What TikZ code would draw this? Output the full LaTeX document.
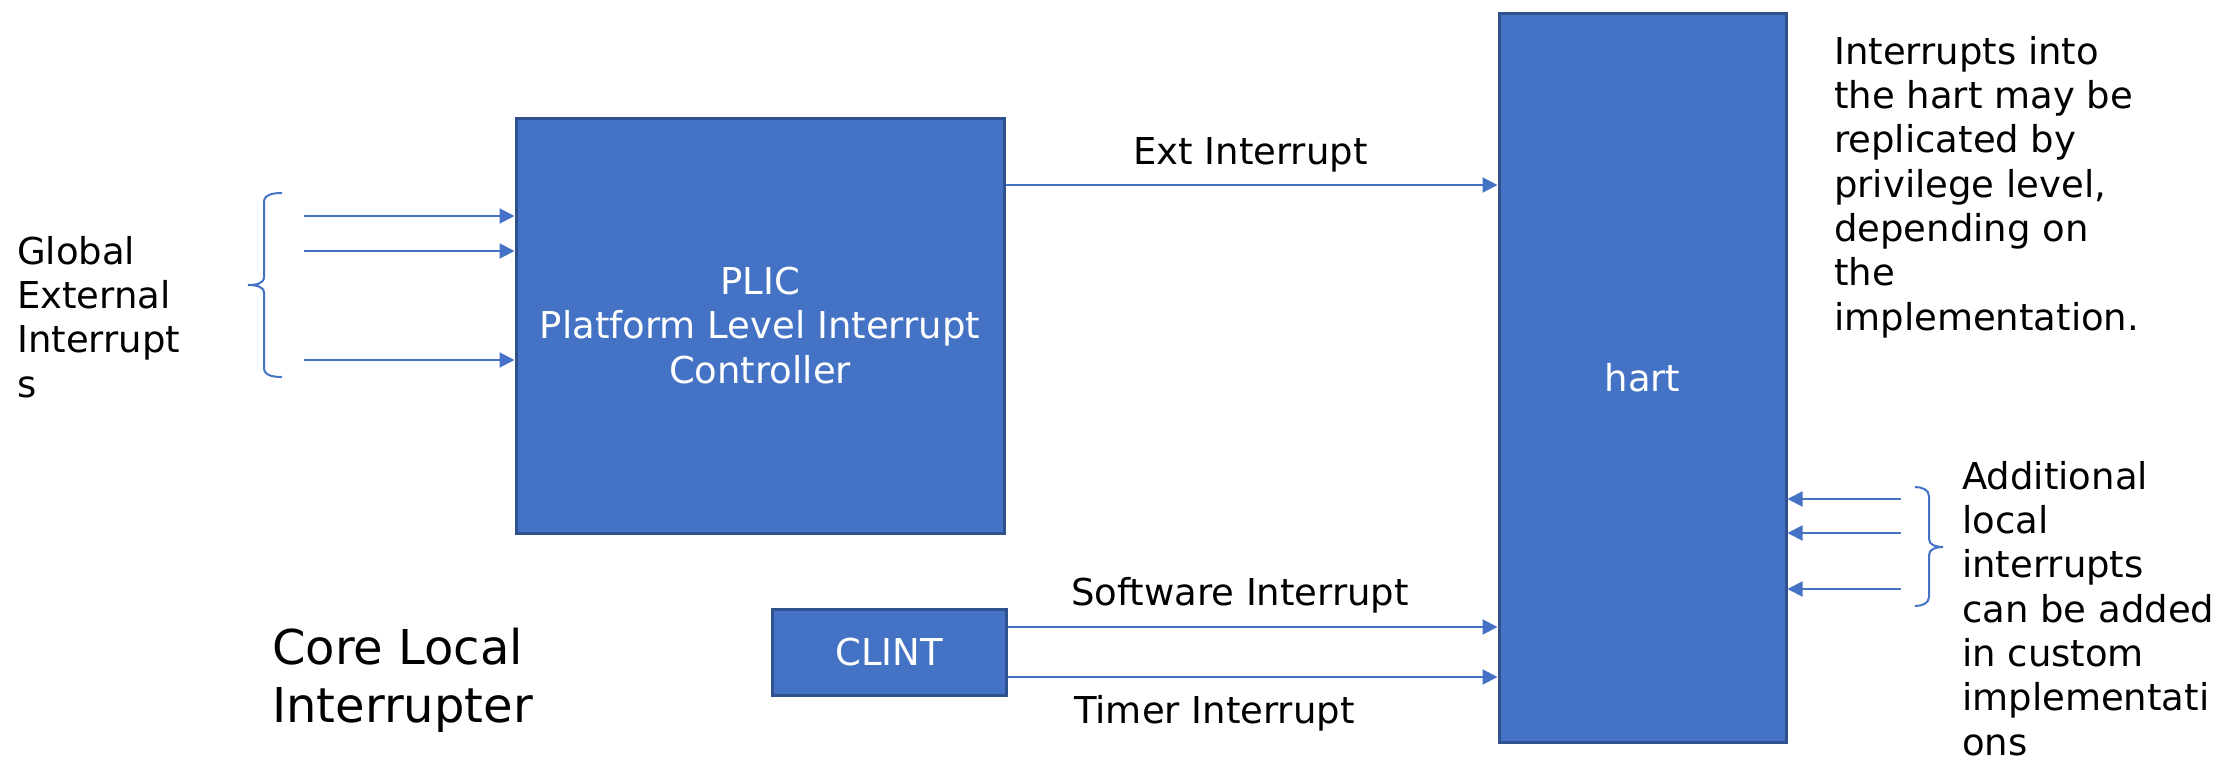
\documentclass[tikz,border=0pt]{standalone}
\usepackage{fontspec}
\setmainfont{DejaVu Sans}
\usetikzlibrary{arrows.meta}
\definecolor{boxblue}{HTML}{4472C4}
\definecolor{boxedge}{HTML}{2F528F}
\begin{document}
\begin{tikzpicture}[x=1pt,y=-1pt,
  blk/.style={draw=boxedge, line width=3pt, fill=boxblue, text=white, font=\fontsize{37}{44.3}\selectfont, align=center, inner sep=0pt},
  arr/.style={draw=boxblue, line width=2pt, -{Triangle[length=15pt,width=15pt]}},
  lbl/.style={font=\fontsize{37}{44.3}\selectfont, inner sep=0pt, align=left},
  big/.style={font=\fontsize{48}{58}\selectfont, inner sep=0pt, align=left},
  brc/.style={draw=boxblue, line width=2pt}]
\useasboundingbox (0,0) rectangle (2221,761);

% boxes
\node[blk, minimum width=488pt, minimum height=415pt] (plic) at (760,325.5) {PLIC\\Platform Level Interrupt\\Controller};
\node[blk, minimum width=287pt, minimum height=729pt] (hart) at (1642.5,377.5) {hart};
\node[blk, minimum width=234pt, minimum height=86pt] (clint) at (889,652) {CLINT};

% left inputs
\coordinate (g1) at (304,216);
\coordinate (g2) at (304,251);
\coordinate (g3) at (304,360);
\draw[arr] (g1) -- (g1 -| plic.west);
\draw[arr] (g2) -- (g2 -| plic.west);
\draw[arr] (g3) -- (g3 -| plic.west);

% left brace
\draw[brc] (282,193) to[out=180,in=90] (264,202) -- (264,277) to[out=270,in=0] (248,285)
  to[out=0,in=90] (264,293) -- (264,368) to[out=270,in=180] (282,377);

% PLIC / CLINT to hart
\draw[arr] (plic.east |- 0,185) -- (hart.west |- 0,185);
\draw[arr] (clint.east |- 0,627) -- (hart.west |- 0,627);
\draw[arr] (clint.east |- 0,677) -- (hart.west |- 0,677);

% right inputs
\coordinate (r1) at (1901,499);
\coordinate (r2) at (1901,533);
\coordinate (r3) at (1901,589);
\draw[arr] (r1) -- (r1 -| hart.east);
\draw[arr] (r2) -- (r2 -| hart.east);
\draw[arr] (r3) -- (r3 -| hart.east);

% right brace
\draw[brc] (1915,487) to[out=0,in=90] (1929,496) -- (1929,539) to[out=270,in=180] (1943,547)
  to[out=180,in=90] (1929,555) -- (1929,597) to[out=270,in=0] (1915,606);

% labels (base anchor = baseline of the last line)
\node[lbl, anchor=base west] (glob) at (17,397) {Global\\External\\Interrupt\\s};
\node[lbl, anchor=base west] (ext) at (1133,164) {Ext Interrupt};
\node[lbl, anchor=base west] (sw) at (1071,605) {Software Interrupt};
\node[lbl, anchor=base west] (tim) at (1074,723) {Timer Interrupt};
\node[lbl, anchor=base west] (note) at (1834,330) {Interrupts into\\the hart may be\\replicated by\\privilege level,\\depending on\\the\\implementation.};
\node[lbl, anchor=base west] (addl) at (1962,755) {Additional\\local\\interrupts\\can be added\\in custom\\implementati\\ons};
\node[big, anchor=base west] (core) at (272,722) {Core Local\\Interrupter};
\end{tikzpicture}
\end{document}
